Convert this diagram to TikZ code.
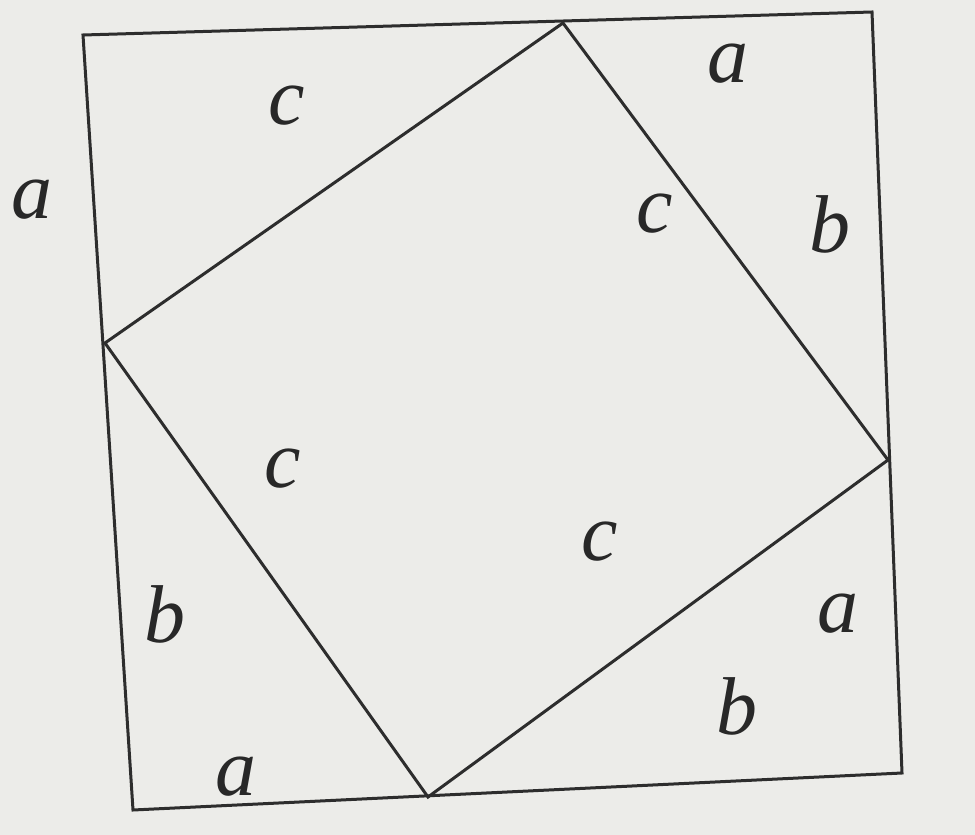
\documentclass[tikz,border=0pt]{standalone}
\usepackage{fontspec}
\setmainfont{Liberation Serif}
\definecolor{paper}{RGB}{236,236,233}
\definecolor{ink}{RGB}{45,45,45}
\definecolor{txt}{RGB}{40,40,40}
\begin{document}
\begin{tikzpicture}[x=1pt,y=-1pt,
  edge/.style={draw=ink, line width=3pt, line join=miter},
  lab/.style={text=txt, font=\fontsize{82}{90}\selectfont\itshape, inner sep=0pt}]
\useasboundingbox (0,0) rectangle (975,835);
\fill[paper] (0,0) rectangle (975,835);
% outer square
\coordinate (TL) at (83,35);
\coordinate (TR) at (872,12);
\coordinate (BR) at (902,773);
\coordinate (BL) at (133,810);
% inner square
\coordinate (IT) at (563,23);
\coordinate (IR) at (888,460);
\coordinate (IB) at (428,797);
\coordinate (IL) at (105,343);
\draw[edge] (TL) -- (TR) -- (BR) -- (BL) -- cycle;
\draw[edge] (IT) -- (IR) -- (IB) -- (IL) -- cycle;
% labels
\node[lab] (l1) at (32,200) {a};
\node[lab] (l2) at (287,106) {c};
\node[lab] (l3) at (728,64) {a};
\node[lab] (l4) at (655,214) {c};
\node[lab] (l5) at (830,224) {b};
\node[lab] (l6) at (283,469) {c};
\node[lab] (l7) at (600,542) {c};
\node[lab] (l8) at (165,614) {b};
\node[lab] (l9) at (838,614) {a};
\node[lab] (l10) at (737,706) {b};
\node[lab] (l11) at (236,777) {a};
\end{tikzpicture}
\end{document}
